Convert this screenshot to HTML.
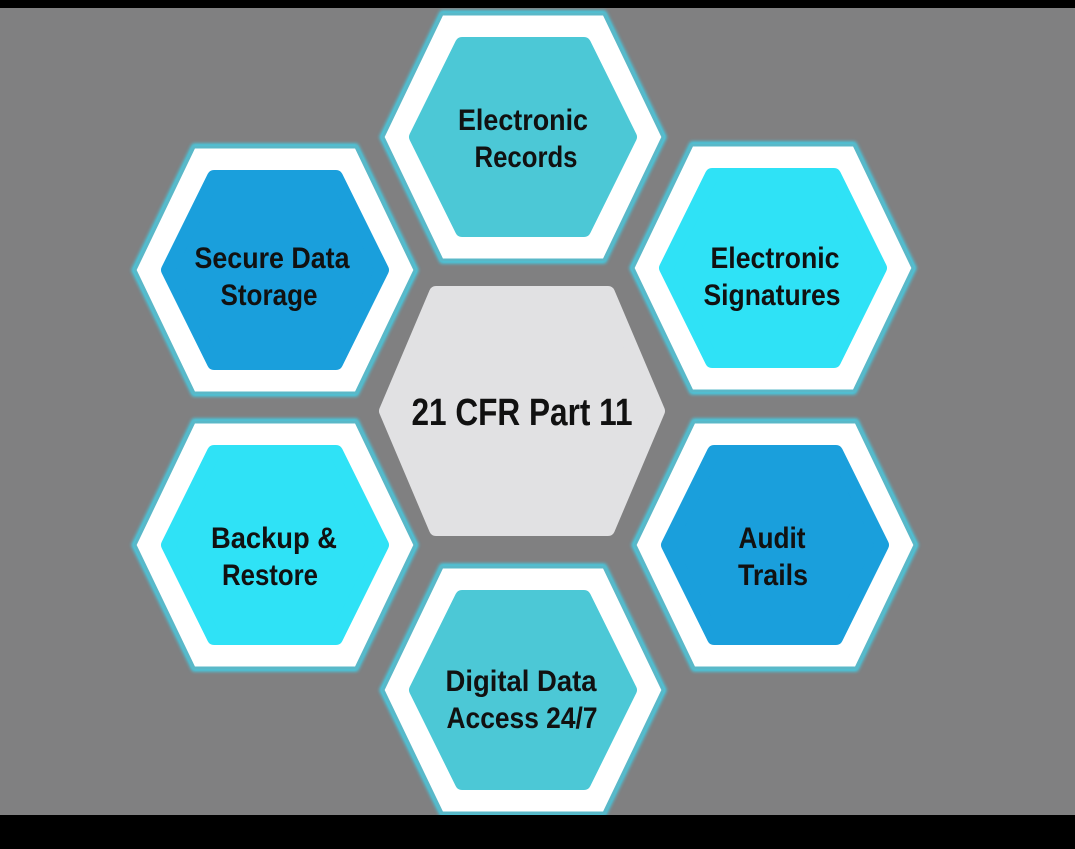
<!DOCTYPE html>
<html><head><style>
html,body{margin:0;padding:0;background:#000;}
svg{display:block;}
text{font-family:"Liberation Sans",sans-serif;font-weight:bold;fill:#111;text-anchor:middle;}
</style></head><body>
<svg width="1075" height="849" viewBox="0 0 1075 849" xmlns="http://www.w3.org/2000/svg">
<defs>
<filter id="glow" x="-20%" y="-20%" width="140%" height="140%"><feGaussianBlur stdDeviation="1.5"/></filter>
</defs>
<rect x="0" y="8" width="1075" height="807" fill="#808081"/>
<g id="hexes"></g>
<script>
var g=document.getElementById('hexes');
function hex(cx,cy,W,H,o){return [[cx-W,cy],[cx-W+o,cy-H],[cx+W-o,cy-H],[cx+W,cy],[cx+W-o,cy+H],[cx-W+o,cy+H]].map(function(p){return p.join(',')}).join(' ');}
function P(pts,fill,stroke,sw,extra){var e=document.createElementNS('http://www.w3.org/2000/svg','polygon');e.setAttribute('points',pts);e.setAttribute('fill',fill);if(stroke){e.setAttribute('stroke',stroke);e.setAttribute('stroke-width',sw);e.setAttribute('stroke-linejoin','round');}if(extra)e.setAttribute('filter',extra);g.appendChild(e);}
var hs=[[523,137,'#4cc8d6'],[275,270,'#1a9fdc'],[773,268,'#2fe2f6'],[275,545,'#2fe2f6'],[775,545,'#1a9fdc'],[523,690,'#4cc8d6']];
hs.forEach(function(h){
 P(hex(h[0],h[1],141,124,60),'none','#3fd0e8',5,'url(#glow)');
 P(hex(h[0],h[1],140,123,59),'#ffffff','#5ab8c8',3);
 P(hex(h[0],h[1],107,93,46),h[2],h[2],14);
});
P(hex(522,411,136,118,50),'#e1e1e3','#e1e1e3',14);
</script>
<text x="523" y="130" font-size="30" textLength="130" lengthAdjust="spacingAndGlyphs">Electronic</text>
<text x="526" y="167" font-size="30" textLength="103" lengthAdjust="spacingAndGlyphs">Records</text>
<text x="272" y="268" font-size="30" textLength="155" lengthAdjust="spacingAndGlyphs">Secure Data</text>
<text x="269" y="305" font-size="30" textLength="97" lengthAdjust="spacingAndGlyphs">Storage</text>
<text x="775" y="268" font-size="30" textLength="129" lengthAdjust="spacingAndGlyphs">Electronic</text>
<text x="772" y="305" font-size="30" textLength="137" lengthAdjust="spacingAndGlyphs">Signatures</text>
<text x="522" y="425" font-size="38" textLength="221" lengthAdjust="spacingAndGlyphs">21 CFR Part 11</text>
<text x="274" y="548" font-size="30" textLength="126" lengthAdjust="spacingAndGlyphs">Backup &amp;</text>
<text x="270" y="585" font-size="30" textLength="96" lengthAdjust="spacingAndGlyphs">Restore</text>
<text x="772" y="548" font-size="30" textLength="67" lengthAdjust="spacingAndGlyphs">Audit</text>
<text x="773" y="585" font-size="30" textLength="70" lengthAdjust="spacingAndGlyphs">Trails</text>
<text x="521" y="691" font-size="30" textLength="151" lengthAdjust="spacingAndGlyphs">Digital Data</text>
<text x="522" y="728" font-size="30" textLength="151" lengthAdjust="spacingAndGlyphs">Access 24/7</text>
<rect x="0" y="815" width="1075" height="34" fill="#000"/>
<rect x="0" y="0" width="1075" height="8" fill="#000"/>
</svg>
</body></html>
